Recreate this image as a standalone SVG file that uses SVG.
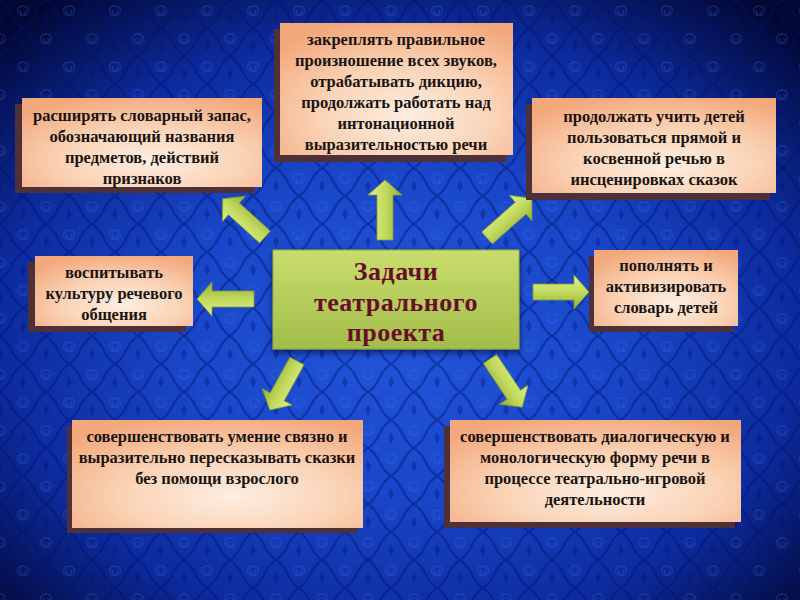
<svg xmlns="http://www.w3.org/2000/svg" width="800" height="600" viewBox="0 0 800 600">
<defs>
<radialGradient id="bg" cx="50%" cy="55%" r="70%">
<stop offset="0" stop-color="#2256dc"/>
<stop offset="0.4" stop-color="#1946c8"/>
<stop offset="0.72" stop-color="#0c2a9c"/>
<stop offset="1" stop-color="#020733"/>
</radialGradient>
<pattern id="damask" width="46" height="56" patternUnits="userSpaceOnUse">
<path d="M0,0 C14,9 9,19 23,28 C37,37 32,47 46,56 M46,0 C32,9 37,19 23,28 C9,37 14,47 0,56" fill="none" stroke="#001070" stroke-width="2.4" opacity="0.4"/>
<path d="M23,6 c-5,0 -7,5 -4,8 c3,3 8,0 6,-4 M23,6 c5,0 7,5 4,8 c-3,3 -8,0 -6,-4" fill="none" stroke="#4a7cf0" stroke-width="1.3" opacity="0.22"/>
<path d="M0,34 c-5,0 -7,5 -4,8 c3,3 8,0 6,-4 M0,34 c5,0 7,5 4,8 c-3,3 -8,0 -6,-4 M46,34 c-5,0 -7,5 -4,8 c3,3 8,0 6,-4 M46,34 c5,0 7,5 4,8 c-3,3 -8,0 -6,-4" fill="none" stroke="#4a7cf0" stroke-width="1.3" opacity="0.22"/>
<path d="M23,40 l3,6 l-3,6 l-3,-6z M0,12 l3,6 l-3,6 l-3,-6z M46,12 l3,6 l-3,6 l-3,-6z" fill="#001070" opacity="0.35"/>
</pattern>
<radialGradient id="peach" cx="55%" cy="70%" r="75%">
<stop offset="0" stop-color="#fdeee2"/>
<stop offset="0.5" stop-color="#fad3b6"/>
<stop offset="1" stop-color="#f3a87c"/>
</radialGradient>
<linearGradient id="green" x1="0" y1="0" x2="0" y2="1">
<stop offset="0" stop-color="#c9dd6e"/>
<stop offset="1" stop-color="#a2bd48"/>
</linearGradient>
<linearGradient id="arrowFill" x1="0" y1="0" x2="0" y2="1">
<stop offset="0" stop-color="#e0f08c"/>
<stop offset="0.5" stop-color="#c2da5e"/>
<stop offset="1" stop-color="#93ad34"/>
</linearGradient>
<filter id="soft" x="-10%" y="-10%" width="125%" height="130%">
<feDropShadow dx="0" dy="3" stdDeviation="3" flood-color="#000020" flood-opacity="0.6"/>
</filter>
<style>
.box{fill:url(#peach)}
.shadow{fill:#4e3038}
.t{font-family:"Liberation Serif","Times New Roman",serif;font-weight:bold;font-size:16.5px;fill:#1a1410;text-anchor:middle}
.title{font-family:"Liberation Serif","Times New Roman",serif;font-weight:bold;font-size:26px;fill:#6b0d28;text-anchor:middle;letter-spacing:0.5px}
.arw{fill:url(#arrowFill);stroke:#87a02c;stroke-width:0.8}
</style>
</defs>
<rect width="800" height="600" fill="url(#bg)"/>
<rect width="800" height="600" fill="url(#damask)"/>

<g id="connectors">
<path class="arw" transform="translate(385,240) rotate(-90)" d="M0,-8 H45 V-17 L60,0 L45,17 V8 H0 Z"/>
<path class="arw" transform="translate(265,237) rotate(-137.9)" d="M0,-8 H42 V-17 L57,0 L42,17 V8 H0 Z"/>
<path class="arw" transform="translate(487,238) rotate(-41.6)" d="M0,-8 H45 V-17 L60,0 L45,17 V8 H0 Z"/>
<path class="arw" transform="translate(254,299) rotate(180)" d="M0,-8 H42 V-17 L57,0 L42,17 V8 H0 Z"/>
<path class="arw" transform="translate(533,292)" d="M0,-8 H41 V-17 L56,0 L41,17 V8 H0 Z"/>
<path class="arw" transform="translate(297,361) rotate(118.9)" d="M0,-8 H41 V-17 L56,0 L41,17 V8 H0 Z"/>
<path class="arw" transform="translate(490,359) rotate(56.3)" d="M0,-8 H43 V-17 L58,0 L43,17 V8 H0 Z"/>
</g>

<g id="center">
<rect x="273" y="250" width="246" height="99" fill="url(#green)" stroke="#93ad3c" stroke-width="1" filter="url(#soft)"/>
<text class="title" x="396" y="280">Задачи</text>
<text class="title" x="396" y="311">театрального</text>
<text class="title" x="396" y="341">проекта</text>
</g>

<g id="node-vocab">
<rect class="shadow" x="15" y="104" width="240" height="89"/>
<rect class="box" x="22" y="98" width="240" height="89"/>
<text class="t" x="142" y="121">расширять словарный запас,</text>
<text class="t" x="142" y="142">обозначающий названия</text>
<text class="t" x="142" y="163">предметов, действий</text>
<text class="t" x="142" y="184">признаков</text>
</g>

<g id="node-pronunciation">
<rect class="shadow" x="274" y="29" width="233" height="133"/>
<rect class="box" x="280" y="23" width="233" height="132"/>
<text class="t" x="396" y="45">закреплять правильное</text>
<text class="t" x="396" y="66">произношение всех звуков,</text>
<text class="t" x="396" y="87">отрабатывать дикцию,</text>
<text class="t" x="396" y="108">продолжать работать над</text>
<text class="t" x="396" y="129">интонационной</text>
<text class="t" x="396" y="150">выразительностью речи</text>
</g>

<g id="node-speech">
<rect class="shadow" x="526" y="104" width="244" height="96"/>
<rect class="box" x="532" y="98" width="244" height="95"/>
<text class="t" x="654" y="122">продолжать учить детей</text>
<text class="t" x="654" y="143">пользоваться прямой и</text>
<text class="t" x="654" y="164">косвенной речью в</text>
<text class="t" x="654" y="185">инсценировках сказок</text>
</g>

<g id="node-culture">
<rect class="shadow" x="28" y="262" width="158" height="70"/>
<rect class="box" x="35" y="256" width="158" height="70"/>
<text class="t" x="114" y="278">воспитывать</text>
<text class="t" x="114" y="299">культуру речевого</text>
<text class="t" x="114" y="320">общения</text>
</g>

<g id="node-enrich">
<rect class="shadow" x="589" y="256" width="144" height="76"/>
<rect class="box" x="594" y="250" width="144" height="76"/>
<text class="t" x="666" y="271">пополнять и</text>
<text class="t" x="666" y="292">активизировать</text>
<text class="t" x="666" y="313">словарь детей</text>
</g>

<g id="node-retell">
<rect class="shadow" x="67" y="426" width="291" height="107"/>
<rect class="box" x="72" y="420" width="291" height="108"/>
<text class="t" x="217" y="442">совершенствовать умение связно и</text>
<text class="t" x="217" y="463">выразительно пересказывать сказки</text>
<text class="t" x="217" y="484">без помощи взрослого</text>
</g>

<g id="node-dialogue">
<rect class="shadow" x="444" y="426" width="291" height="102"/>
<rect class="box" x="450" y="420" width="291" height="102"/>
<text class="t" x="595" y="442">совершенствовать диалогическую и</text>
<text class="t" x="595" y="463">монологическую форму речи в</text>
<text class="t" x="595" y="484">процессе театрально-игровой</text>
<text class="t" x="595" y="505">деятельности</text>
</g>
</svg>
